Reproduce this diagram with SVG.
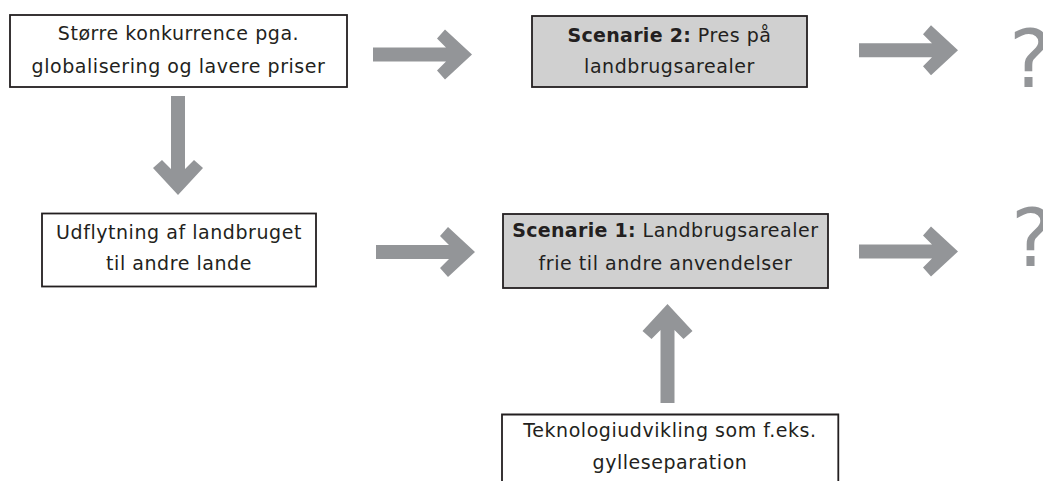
<svg xmlns="http://www.w3.org/2000/svg" xmlns:xlink="http://www.w3.org/1999/xlink" width="1043" height="481" viewBox="0 0 1043 481">
  <style>
    .box { fill: #ffffff; stroke: #231f20; stroke-width: 1.8; }
    .scen { fill: #d0d0d0; stroke: #231f20; stroke-width: 1.8; }
    .lbl { font-family: "DejaVu Sans", Verdana, sans-serif; font-size: 19px; letter-spacing: 0.55px; fill: #231f20; text-anchor: middle; }
    .lbl tspan.b { font-weight: bold; letter-spacing: 0.3px; }
    .q { font-family: "DejaVu Sans", Verdana, sans-serif; font-size: 81px; fill: #939598; }
    .arr { fill: #939598; }
  </style>
  <defs>
    <!-- block arrow pointing right, tip at origin -->
    <polygon id="arrow" class="arr" points="-99,-7 -26,-7 -35,-16 -27,-25 0,0 -27,25 -35,16 -26,7 -99,7"/>
  </defs>

  <g id="connectors">
    <use xlink:href="#arrow" href="#arrow" transform="translate(472,54.5)"/>
    <use xlink:href="#arrow" href="#arrow" transform="translate(958,50.3)"/>
    <use xlink:href="#arrow" href="#arrow" transform="translate(475,252)"/>
    <use xlink:href="#arrow" href="#arrow" transform="translate(958,251.5)"/>
    <use xlink:href="#arrow" href="#arrow" transform="translate(178,195) rotate(90)"/>
    <use xlink:href="#arrow" href="#arrow" transform="translate(667.5,304) rotate(-90)"/>
  </g>

  <g id="konkurrence">
    <rect class="box" x="10" y="15" width="337" height="72"/>
    <text class="lbl" x="178.5" y="40">Større konkurrence pga.</text>
    <text class="lbl" x="178.5" y="72.5">globalisering og lavere priser</text>
  </g>

  <g id="scenarie2">
    <rect class="scen" x="532" y="16" width="275" height="71"/>
    <text class="lbl" x="669.5" y="41.5"><tspan class="b">Scenarie 2:</tspan> Pres på</text>
    <text class="lbl" x="669.5" y="73">landbrugsarealer</text>
  </g>

  <g id="udflytning">
    <rect class="box" x="42" y="213.5" width="274" height="73"/>
    <text class="lbl" x="179" y="238.5">Udflytning af landbruget</text>
    <text class="lbl" x="179" y="270">til andre lande</text>
  </g>

  <g id="scenarie1">
    <rect class="scen" x="503" y="214" width="325" height="74"/>
    <text class="lbl" x="665.5" y="237"><tspan class="b">Scenarie 1:</tspan> Landbrugsarealer</text>
    <text class="lbl" x="665.5" y="269.5">frie til andre anvendelser</text>
  </g>

  <g id="teknologi">
    <path class="box" d="M502,482 V414.5 H838.3 V482"/>
    <text class="lbl" x="670" y="437">Teknologiudvikling som f.eks.</text>
    <text class="lbl" x="670" y="468.5">gylleseparation</text>
  </g>

  <g id="ukendt2">
    <text class="q" x="1009" y="87">?</text>
  </g>
  <g id="ukendt1">
    <text class="q" x="1011" y="266">?</text>
  </g>
</svg>
